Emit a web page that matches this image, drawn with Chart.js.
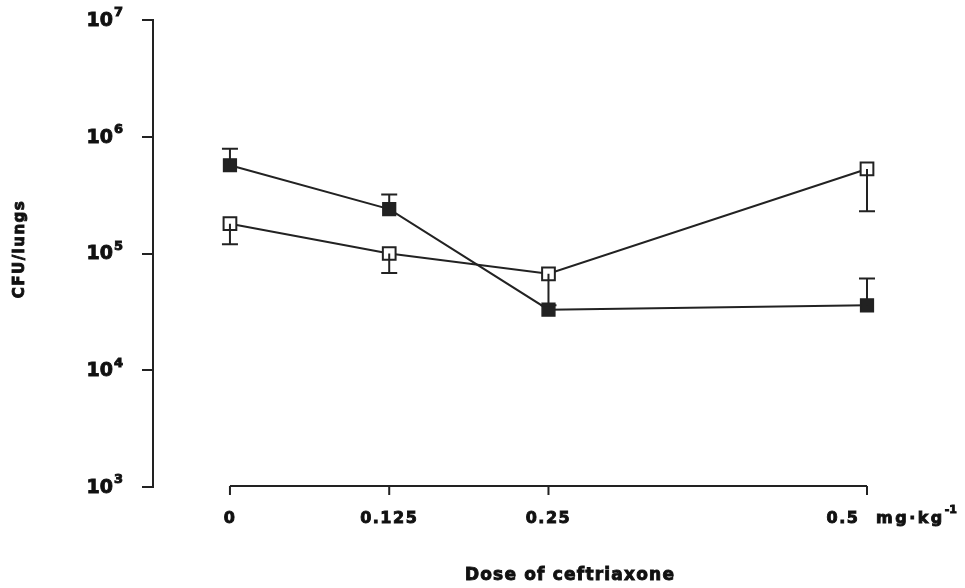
<!DOCTYPE html>
<html>
<head>
<meta charset="utf-8">
<title>CFU/lungs vs dose of ceftriaxone</title>
<script src="https://cdn.jsdelivr.net/npm/chart.js@4.4.1/dist/chart.umd.min.js"></script>
<style>
    html, body { margin: 0; padding: 0; background: #fff; }
    #wrap { width: 965px; height: 588px; }
</style>
</head>
<body>
<div id="wrap"><canvas id="cfuChart" width="965" height="588"></canvas></div>
<script>
// dose of ceftriaxone (mg/kg)
const doses = [0, 0.125, 0.25, 0.5];
const doseLabels = ['0', '0.125', '0.25', '0.5'];

// filled squares, error bar upward
const filledCfu = [5.7e5, 2.4e5, 3.3e4, 3.6e4];
const filledUpper = [7.9e5, 3.2e5, null, 6.1e4];

// open squares, error bar downward
const openCfu = [1.8e5, 1.0e5, 6.7e4, 5.3e5];
const openLower = [1.2e5, 6.8e4, 3.6e4, 2.3e5];

// y ticks (decades)
const yTicks = [1e3, 1e4, 1e5, 1e6, 1e7];
const yExponents = ['3', '4', '5', '6', '7'];

const ink = '#222';
const fontFam = '"DejaVu Sans", "Liberation Sans", sans-serif';

const toPoints = (vals) => doses.map((d, i) => ({ x: d, y: vals[i] }));

// heavy text: fill plus a thin stroke, the scan's font is very black
function heavyText(ctx, txt, x, y) {
    ctx.fillText(txt, x, y);
    ctx.strokeText(txt, x, y);
}

// error bars, tick labels, x axis line and titles
const axisDecor = {
    id: 'axisDecor',
    afterDatasetsDraw(chart) {
        const ctx = chart.ctx;
        const xs = chart.scales.x;
        const ys = chart.scales.y;
        const bars = [[filledCfu, filledUpper], [openCfu, openLower]];
        ctx.save();
        ctx.strokeStyle = ink;
        ctx.lineWidth = 2;
        bars.forEach(([vals, ends]) => {
            doses.forEach((d, i) => {
                if (ends[i] == null) return;
                const x = xs.getPixelForValue(d);
                const y0 = ys.getPixelForValue(vals[i]);
                const y1 = ys.getPixelForValue(ends[i]);
                ctx.beginPath();
                ctx.moveTo(x, y0);
                ctx.lineTo(x, y1);
                ctx.moveTo(x - 8, y1);
                ctx.lineTo(x + 8, y1);
                ctx.stroke();
            });
        });
        ctx.restore();
    },
    afterDraw(chart) {
        const ctx = chart.ctx;
        const xs = chart.scales.x;
        const ys = chart.scales.y;
        const area = chart.chartArea;
        ctx.save();
        ctx.strokeStyle = ink;
        ctx.lineWidth = 2;

        // x axis line, detached from the y axis
        const ax = area.bottom - 1;
        const xl = xs.getPixelForValue(doses[0]);
        const xr = xs.getPixelForValue(doses[doses.length - 1]);
        ctx.beginPath();
        ctx.moveTo(xl, ax);
        ctx.lineTo(xr, ax);
        doses.forEach((d) => {
            const x = xs.getPixelForValue(d);
            ctx.moveTo(x, ax);
            ctx.lineTo(x, ax + 9);
        });
        ctx.stroke();

        ctx.fillStyle = '#111';
        ctx.strokeStyle = '#111';
        ctx.lineWidth = 0.9;

        // y tick labels 10^n
        yTicks.forEach((v, i) => {
            const y = ys.getPixelForValue(v);
            ctx.font = 'bold 19px ' + fontFam;
            ctx.textAlign = 'right';
            ctx.textBaseline = 'middle';
            heavyText(ctx, '10', 113, y + 1);
            ctx.font = 'bold 13px ' + fontFam;
            ctx.textAlign = 'left';
            heavyText(ctx, yExponents[i], 114, y - 7);
        });

        // x tick labels
        ctx.font = 'bold 16px ' + fontFam;
        ctx.letterSpacing = '1.5px';
        ctx.textBaseline = 'middle';
        ctx.textAlign = 'center';
        doses.forEach((d, i) => {
            let x = xs.getPixelForValue(d);
            if (i === doses.length - 1) x -= 24;
            heavyText(ctx, doseLabels[i], x, 519);
        });
        ctx.textAlign = 'left';
        ctx.letterSpacing = '2.5px';
        heavyText(ctx, 'mg\u00b7kg', 876, 519);
        const w = ctx.measureText('mg\u00b7kg').width;
        ctx.font = 'bold 11px ' + fontFam;
        ctx.letterSpacing = '0px';
        heavyText(ctx, '-1', 876 + w, 510);

        // axis titles
        ctx.font = 'bold 17px ' + fontFam;
        ctx.letterSpacing = '1.2px';
        ctx.textAlign = 'center';
        heavyText(ctx, 'Dose of ceftriaxone', 570, 576);

        ctx.translate(20, 249);
        ctx.rotate(-Math.PI / 2);
        ctx.font = 'bold 15px ' + fontFam;
        ctx.letterSpacing = '1.5px';
        heavyText(ctx, 'CFU/lungs', 0, 0);
        ctx.restore();
    }
};

const cfuData = {
    datasets: [{
        label: 'filled',
        data: toPoints(filledCfu),
        borderColor: ink,
        borderWidth: 2,
        backgroundColor: ink,
        pointStyle: 'rect',
        pointRadius: 9,
        pointBorderWidth: 1.5,
        pointBorderColor: ink,
        pointBackgroundColor: ink
    }, {
        label: 'open',
        data: toPoints(openCfu),
        borderColor: ink,
        borderWidth: 2,
        backgroundColor: '#fff',
        pointStyle: 'rect',
        pointRadius: 9,
        pointBorderWidth: 2,
        pointBorderColor: ink,
        pointBackgroundColor: '#fff'
    }]
};

const cfuConfig = {
    type: 'line',
    data: cfuData,
    options: {
        responsive: false,
        animation: false,
        clip: false,
        layout: {
            padding: { left: 0, top: 20, right: 98, bottom: 101 }
        },
        plugins: {
            legend: { display: false },
            tooltip: { enabled: false }
        },
        scales: {
            x: {
                type: 'linear',
                display: false,
                min: -0.0604,
                max: 0.5,
                afterFit: (scale) => { scale.height = 0; }
            },
            y: {
                type: 'logarithmic',
                min: 1e3,
                max: 1e7,
                afterBuildTicks: (scale) => {
                    scale.ticks = yTicks.map(v => ({ value: v }));
                },
                afterFit: (scale) => { scale.width = 153; },
                ticks: { display: false },
                grid: {
                    display: true,
                    drawOnChartArea: false,
                    drawTicks: true,
                    tickLength: 11,
                    color: ink,
                    lineWidth: 2
                },
                border: { display: true, color: ink, width: 2 }
            }
        }
    },
    plugins: [axisDecor]
};

const cfuChart = new Chart(
    document.getElementById('cfuChart'),
    cfuConfig
);
</script>
</body>
</html>
